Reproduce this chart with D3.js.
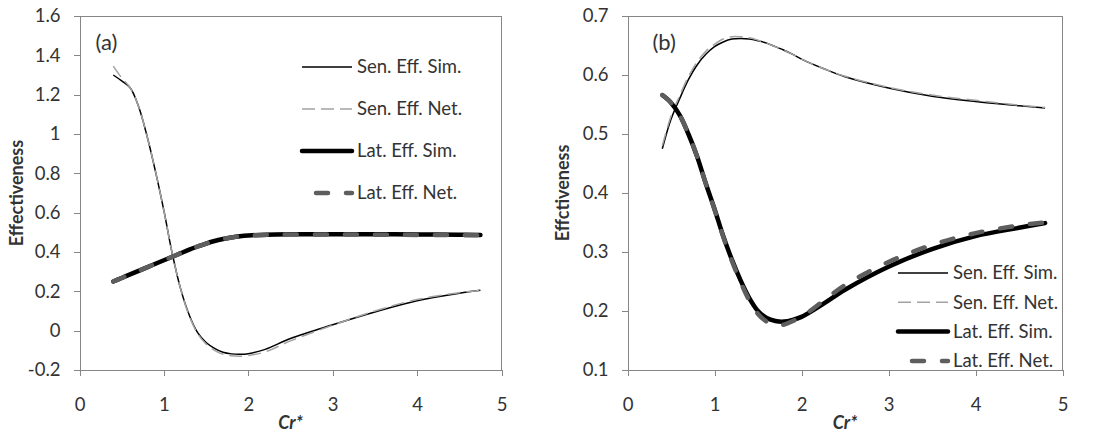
<!DOCTYPE html>
<html>
<head>
<meta charset="utf-8">
<script src="https://cdn.jsdelivr.net/npm/d3@7"></script>
<style>
  body { margin: 0; background: #fff; }
  svg { font-family: Lato, "Open Sans", sans-serif; }
</style>
</head>
<body>
<div id="chart"></div>
<script>
// Panel (a) data
const crA = [0.4, 0.5, 0.6, 0.7, 0.8, 0.9, 1.0, 1.1, 1.2, 1.3, 1.4, 1.5, 1.6, 1.7, 1.8, 1.9, 2.0, 2.2, 2.5, 3.0, 3.5, 4.0, 4.5, 4.75];
const senSimA = [1.30, 1.27, 1.235, 1.14, 0.99, 0.81, 0.61, 0.39, 0.21, 0.08, -0.01, -0.06, -0.09, -0.11, -0.118, -0.12, -0.117, -0.095, -0.04, 0.03, 0.095, 0.152, 0.19, 0.205];
const senNetA = [1.345, 1.285, 1.235, 1.14, 0.99, 0.81, 0.61, 0.39, 0.21, 0.075, -0.015, -0.068, -0.1, -0.12, -0.128, -0.13, -0.126, -0.108, -0.052, 0.028, 0.1, 0.158, 0.193, 0.205];
const latSimA = [0.25, 0.268, 0.286, 0.304, 0.322, 0.34, 0.358, 0.376, 0.394, 0.412, 0.428, 0.443, 0.456, 0.466, 0.474, 0.48, 0.484, 0.488, 0.49, 0.49, 0.49, 0.489, 0.488, 0.487];
const latNetA = [0.25, 0.268, 0.286, 0.304, 0.322, 0.34, 0.358, 0.376, 0.394, 0.412, 0.428, 0.443, 0.456, 0.466, 0.474, 0.48, 0.484, 0.487, 0.489, 0.489, 0.488, 0.487, 0.486, 0.485];

// Panel (b) data
const crB = [0.4, 0.5, 0.6, 0.7, 0.8, 0.9, 1.0, 1.1, 1.2, 1.3, 1.4, 1.5, 1.6, 1.7, 1.8, 1.9, 2.0, 2.25, 2.5, 3.0, 3.5, 4.0, 4.5, 4.8];
const senSimB = [0.475, 0.525, 0.56, 0.592, 0.617, 0.635, 0.648, 0.656, 0.661, 0.662, 0.661, 0.658, 0.654, 0.648, 0.642, 0.635, 0.627, 0.611, 0.597, 0.578, 0.564, 0.555, 0.548, 0.544];
const senNetB = [0.48, 0.53, 0.565, 0.597, 0.622, 0.64, 0.652, 0.661, 0.665, 0.665, 0.663, 0.659, 0.654, 0.648, 0.642, 0.635, 0.627, 0.611, 0.598, 0.579, 0.566, 0.557, 0.549, 0.545];
const latSimB = [0.566, 0.553, 0.532, 0.50, 0.462, 0.416, 0.373, 0.327, 0.287, 0.252, 0.222, 0.2, 0.188, 0.183, 0.182, 0.185, 0.19, 0.212, 0.236, 0.275, 0.305, 0.327, 0.341, 0.349];
const latNetB = [0.566, 0.553, 0.532, 0.50, 0.462, 0.416, 0.372, 0.326, 0.285, 0.249, 0.218, 0.195, 0.182, 0.176, 0.177, 0.183, 0.19, 0.217, 0.244, 0.283, 0.312, 0.332, 0.345, 0.35];

// Ticks and labels
const xTicks = [0, 1, 2, 3, 4, 5];
const yTicksA = [-0.2, 0, 0.2, 0.4, 0.6, 0.8, 1, 1.2, 1.4, 1.6];
const yTicksB = [0.1, 0.2, 0.3, 0.4, 0.5, 0.6, 0.7];
const seriesNames = ["Sen. Eff. Sim.", "Sen. Eff. Net.", "Lat. Eff. Sim.", "Lat. Eff. Net."];

const styles = [
    {stroke: "#000", width: 1.5, dash: null, cap: "butt"},
    {stroke: "#a3a3a3", width: 1.5, dash: "13,6", cap: "butt"},
    {stroke: "#000", width: 4.5, dash: null, cap: "round"},
    {stroke: "#5e5e5e", width: 4.5, dash: "12,18", cap: "round"}
];

const svg = d3.select("#chart")
    .append("svg")
    .attr("width", 1102)
    .attr("height", 435);

const axisColor = "#868686";
const textColor = "#333";

function drawPanel(p) {
    const x = d3.scaleLinear().domain([0, 5]).range([p.left, p.right]);
    const y = d3.scaleLinear().domain(p.yDomain).range([p.bottom, p.top]);

    const g = svg.append("g");

    // Plot border (top and right)
    g.append("path")
        .attr("d", `M${p.left},${p.top}H${p.right}V${p.bottom}`)
        .attr("fill", "none")
        .attr("stroke", axisColor)
        .attr("stroke-width", 1)
        .attr("shape-rendering", "crispEdges");

    // Axes
    const xAxis = g.append("g")
        .attr("transform", `translate(0,${p.bottom})`)
        .call(d3.axisBottom(x).tickValues(xTicks).tickSize(6).tickPadding(22).tickFormat(d3.format("d")));
    const yAxis = g.append("g")
        .attr("transform", `translate(${p.left},0)`)
        .call(d3.axisLeft(y).tickValues(p.yTicks).tickSize(6).tickPadding(13).tickFormat(d => String(+d.toFixed(1))));

    [xAxis, yAxis].forEach(a => {
        a.select(".domain").attr("stroke", axisColor).attr("shape-rendering", "crispEdges");
        a.selectAll(".tick line").attr("stroke", axisColor).attr("shape-rendering", "crispEdges");
        a.selectAll(".tick text")
            .attr("fill", textColor)
            .style("font-size", "18.5px")
            .style("font-family", "Lato, 'Open Sans', sans-serif");
    });

    // Axis titles
    g.append("text")
        .attr("x", (p.left + p.right) / 2)
        .attr("y", 429)
        .attr("text-anchor", "middle")
        .style("font-size", "18px")
        .style("font-weight", "bold")
        .style("font-style", "italic")
        .attr("fill", textColor)
        .text("Cr*");

    g.append("text")
        .attr("transform", `translate(${p.yTitleX},${(p.top + p.bottom) / 2}) rotate(-90)`)
        .attr("text-anchor", "middle")
        .style("font-size", "18px")
        .style("font-weight", "bold")
        .attr("fill", textColor)
        .text(p.yTitle);

    // Panel tag
    g.append("text")
        .attr("x", p.left + p.tagDx)
        .attr("y", 50)
        .style("font-size", "22px")
        .attr("fill", textColor)
        .text(p.tag);

    // Lines
    const line = d3.line()
        .x(d => x(d[0]))
        .y(d => y(d[1]))
        .curve(d3.curveCatmullRom.alpha(0.5));

    p.series.forEach((vals, i) => {
        const s = styles[i];
        g.append("path")
            .datum(d3.zip(p.cr, vals))
            .attr("fill", "none")
            .attr("stroke", s.stroke)
            .attr("stroke-width", s.width)
            .attr("stroke-linecap", s.cap)
            .attr("stroke-linejoin", "round")
            .attr("stroke-dasharray", s.dash)
            .attr("d", line);
    });

    // Legend
    const leg = g.append("g");
    seriesNames.forEach((name, i) => {
        const s = styles[i];
        const yy = p.legY + i * p.legStep;
        const x0 = i === 3 ? p.legX + 14 : p.legX;
        leg.append("line")
            .attr("x1", x0)
            .attr("x2", p.legX + 50)
            .attr("y1", yy)
            .attr("y2", yy)
            .attr("stroke", s.stroke)
            .attr("stroke-width", s.width)
            .attr("stroke-linecap", s.cap)
            .attr("stroke-dasharray", s.dash);
        leg.append("text")
            .attr("x", p.legX + 55)
            .attr("y", yy)
            .attr("dy", "0.35em")
            .style("font-size", "18.5px")
            .attr("fill", textColor)
            .text(name);
    });
}

drawPanel({
    left: 79.5, right: 501.5, top: 16, bottom: 370,
    yDomain: [-0.2, 1.6], yTicks: yTicksA,
    cr: crA, series: [senSimA, senNetA, latSimA, latNetA],
    yTitle: "Effectiveness", yTitleX: 23, tag: "(a)", tagDx: 16,
    legX: 302, legY: 67, legStep: 42
});

drawPanel({
    left: 627.5, right: 1062.5, top: 16, bottom: 370,
    yDomain: [0.1, 0.7], yTicks: yTicksB,
    cr: crB, series: [senSimB, senNetB, latSimB, latNetB],
    yTitle: "Effctiveness", yTitleX: 569, tag: "(b)", tagDx: 25,
    legX: 898, legY: 273, legStep: 29.3
});
</script>
</body>
</html>
